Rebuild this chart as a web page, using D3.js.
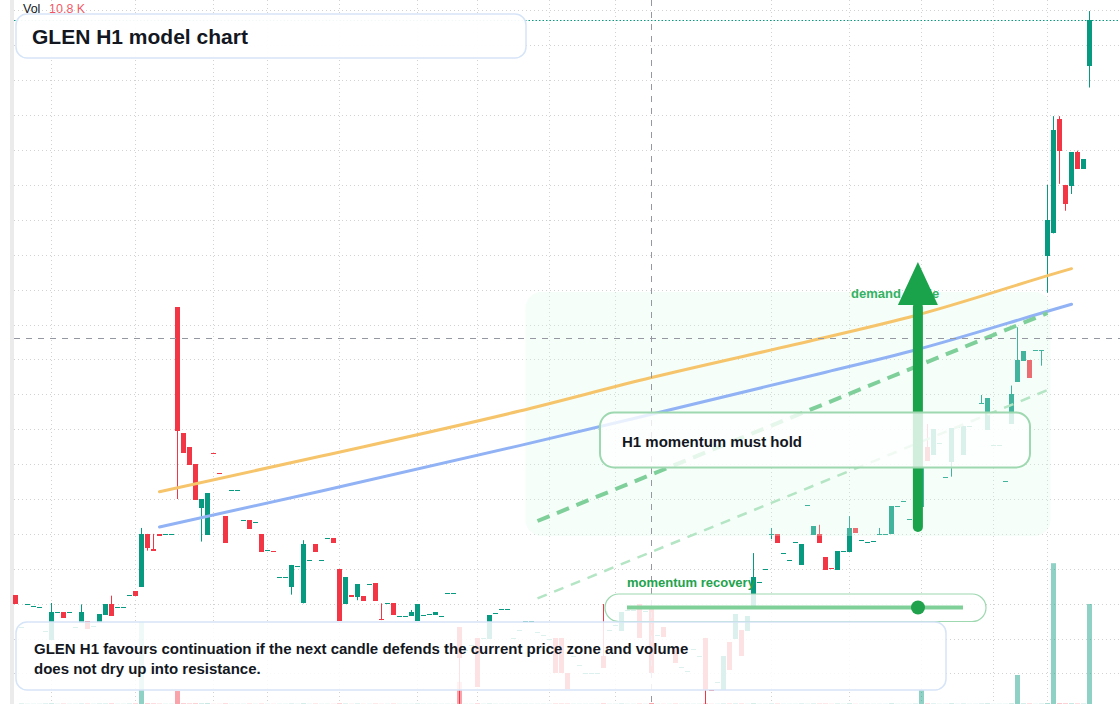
<!DOCTYPE html>
<html><head><meta charset="utf-8">
<script src="https://cdn.jsdelivr.net/npm/d3@7"></script>
<style>
html,body{margin:0;padding:0;background:#fff;overflow:hidden;}
svg{display:block;font-family:"Liberation Sans",Arial,Helvetica,sans-serif;}
</style></head><body>
<svg id="chart" width="1120" height="704"></svg>
<script>
// ---------------- data ----------------
const opens = [
394.24,393.33,393.98,393.93,393.90,393.22,392.96,393.76,393.76,393.76,
393.33,393.45,393.50,393.35,393.48,393.68,393.99,393.90,393.90,394.25,
394.36,394.49,396.00,395.56,396.00,395.96,395.99,402.50,398.89,398.49,
398.00,396.75,395.98,398.31,397.75,396.51,397.25,397.25,396.39,396.40,
396.33,396.00,395.53,395.51,394.76,394.76,394.49,395.07,394.01,395.25,
395.71,395.25,395.87,395.87,394.99,394.00,394.25,394.20,394.22,394.56,
394.59,393.56,394.01,394.01,393.64,393.64,393.65,393.51,393.68,393.71,
393.69,393.64,394.31,394.31,393.33,392.67,392.82,393.02,393.02,392.99,
393.73,393.85,393.85,393.02,393.25,393.50,393.50,393.20,393.10,393.00,
393.02,393.02,392.01,392.50,392.24,392.01,392.01,392.01,392.50,393.25,
393.40,393.22,393.82,393.82,393.99,393.80,393.87,393.10,393.33,392.80,
392.73,392.20,392.07,392.70,392.50,393.02,391.54,391.76,391.53,392.90,
392.99,393.25,393.22,393.94,394.62,394.99,396.00,396.00,395.44,395.24,
395.76,395.11,396.82,395.97,396.00,395.34,395.02,394.97,395.51,395.49,
396.17,395.82,395.76,395.80,395.99,395.99,395.99,396.80,396.94,396.42,
396.45,396.77,398.48,398.25,398.60,397.63,398.05,399.06,398.25,399.09,
399.49,399.75,398.98,398.55,398.55,397.52,399.15,400.36,400.96,400.98,
401.26,401.24,403.97,404.61,407.89,406.00,405.98,406.94,406.46,409.42];
const highs = [
394.24,393.33,393.98,393.93,393.90,393.22,394.02,393.76,393.76,393.76,
393.33,393.98,393.50,393.35,393.70,393.99,394.23,393.90,393.90,394.25,
394.36,396.17,396.00,396.00,396.00,395.99,395.99,402.50,398.89,398.49,
398.00,397.00,397.17,398.31,397.75,396.51,397.25,397.25,396.39,396.40,
396.33,396.00,395.53,395.51,394.76,394.76,395.11,395.07,395.82,395.25,
395.71,395.25,395.87,395.87,394.99,394.77,394.25,394.56,394.22,394.56,
394.59,394.01,394.01,394.01,393.64,393.64,393.82,393.99,393.68,393.71,
393.76,393.64,394.31,394.31,393.33,392.67,392.82,393.02,393.02,393.68,
393.73,393.85,393.85,393.02,393.25,393.50,393.50,393.20,393.10,393.00,
393.02,393.02,392.01,392.50,392.24,392.01,392.01,392.01,393.99,393.25,
393.40,393.76,393.82,393.82,393.99,393.80,393.87,393.10,393.33,392.80,
392.73,392.20,392.07,392.70,392.50,393.02,391.54,391.76,392.50,392.90,
393.70,393.25,393.65,395.45,394.62,394.99,396.17,396.00,395.44,395.24,
395.76,395.71,396.82,396.23,396.26,395.34,395.02,395.51,395.51,396.51,
396.17,395.82,395.76,395.80,396.17,395.99,396.80,396.80,396.94,396.42,
396.80,397.92,399.15,399.01,398.60,397.63,399.03,399.06,399.09,399.09,
399.49,399.98,399.89,398.55,398.55,397.52,400.25,401.92,401.24,400.98,
401.26,401.26,406.00,407.97,407.97,406.00,406.94,406.98,406.74,410.98];
const lows = [
394.00,393.33,393.98,393.93,393.90,393.22,392.96,393.76,393.59,393.76,
393.33,393.45,393.27,393.35,393.48,393.68,393.66,393.90,393.90,394.25,
394.23,394.49,395.52,395.52,395.95,395.96,395.99,397.00,398.33,397.98,
396.98,395.78,395.98,398.29,397.71,395.75,397.25,397.25,396.39,396.15,
396.33,395.49,395.53,395.49,394.76,394.76,394.26,395.07,394.01,395.25,
395.49,395.25,395.87,395.75,393.51,394.00,394.19,394.10,394.08,394.56,
394.08,393.53,394.01,393.68,393.64,393.64,393.65,393.51,393.68,393.71,
393.69,393.64,394.31,394.31,391.13,392.67,392.82,391.61,393.02,392.99,
393.73,393.85,393.85,393.02,393.25,393.50,393.50,393.20,393.10,393.00,
392.01,392.01,391.56,392.50,392.24,392.01,392.01,392.01,392.16,393.25,
393.40,393.22,393.82,393.82,393.02,393.80,392.01,393.10,393.05,392.80,
392.30,392.20,392.07,392.70,392.50,390.96,391.53,391.76,391.53,392.10,
392.99,392.50,393.22,393.94,394.62,394.99,395.85,395.75,395.44,395.24,
395.76,395.11,396.82,395.97,395.75,394.97,395.01,394.97,395.51,395.49,
396.03,395.82,395.76,395.80,395.99,395.99,395.99,396.80,396.94,396.42,
396.40,396.77,398.10,398.25,398.60,397.63,397.64,399.06,398.25,399.09,
399.49,399.75,398.98,398.55,398.55,397.52,399.15,400.36,400.96,400.48,
401.26,400.82,402.91,404.61,406.03,405.26,405.74,406.46,406.46,408.79];
const closes = [
394.00,393.33,393.98,393.93,393.90,393.22,393.76,393.76,393.59,393.76,
393.33,393.76,393.27,393.35,393.70,393.99,393.66,393.90,393.90,394.25,
394.23,396.00,395.60,395.52,395.95,395.99,395.99,398.96,398.33,397.98,
396.98,397.00,397.17,398.29,397.71,395.75,397.25,397.25,396.39,396.15,
396.33,395.49,395.53,395.49,394.76,394.76,395.11,395.07,395.71,395.25,
395.49,395.25,395.87,395.75,393.51,394.77,394.19,394.56,394.08,394.56,
394.08,393.53,394.01,393.68,393.64,393.64,393.76,393.99,393.68,393.71,
393.76,393.64,394.31,394.31,392.44,392.67,392.82,391.61,393.02,393.68,
393.73,393.85,393.85,393.02,393.25,393.50,393.50,393.20,393.10,393.00,
392.01,392.01,391.56,392.50,392.24,392.01,392.01,392.01,392.16,393.25,
393.40,393.76,393.82,393.82,393.02,393.80,392.01,393.10,393.05,392.80,
392.30,392.20,392.07,392.70,392.50,391.53,391.53,391.76,392.50,392.10,
393.70,392.50,393.65,394.77,394.62,394.99,396.00,395.75,395.44,395.24,
395.76,395.71,396.82,396.23,395.75,394.97,395.01,395.51,395.51,396.17,
396.03,395.82,395.76,395.80,395.99,395.99,396.80,396.80,396.94,396.42,
396.77,397.92,398.10,399.01,398.60,397.63,399.03,399.06,399.09,399.09,
399.49,399.75,399.89,398.55,398.55,397.52,400.01,400.98,401.24,400.48,
401.26,401.26,404.99,407.57,406.98,405.46,406.94,406.46,406.74,410.73];
// volume, thousands
const volumes = [
10.0,10.2,10.1,10.1,10.1,10.2,10.3,10.1,10.2,10.1,
10.1,10.2,10.2,10.1,10.2,10.2,10.3,10.1,10.1,10.2,
10.3,77.0,10.4,10.3,10.2,10.1,10.1,20.6,10.4,10.3,
10.4,10.3,10.4,10.1,10.1,10.3,10.1,10.1,10.1,10.2,
10.1,10.2,10.1,10.1,10.1,10.1,10.2,10.1,10.3,10.1,
10.2,10.1,10.1,10.1,10.4,10.2,10.1,10.2,10.1,10.1,
10.2,10.1,10.1,10.2,10.1,10.1,10.1,10.2,10.1,10.1,
10.1,10.1,10.1,10.1,28.0,10.1,10.1,10.3,10.1,10.2,
10.1,10.1,10.1,10.1,10.1,10.1,10.1,10.1,10.1,10.1,
10.2,10.2,10.2,10.1,10.1,10.1,10.1,10.1,10.3,10.1,
10.1,10.2,10.1,10.1,10.2,10.1,10.8,10.1,10.1,10.1,
10.2,10.1,10.1,10.1,10.1,10.4,10.1,10.1,10.2,10.2,
10.2,10.2,10.1,10.3,10.1,10.1,10.2,10.2,10.1,10.1,
10.1,10.2,10.1,10.2,10.2,10.2,10.1,10.2,10.1,10.3,
10.1,10.1,10.1,10.1,10.1,10.1,10.3,10.1,10.1,10.1,
10.2,21.4,10.3,10.2,10.1,10.1,10.3,10.1,10.2,10.1,
10.1,10.2,10.3,10.1,10.1,10.1,10.3,33.7,10.3,10.3,
10.1,10.2,10.6,125.0,10.5,10.4,10.4,10.3,10.2,91.7];

// bar indices that carry a time-axis tick (vertical grid lines)
const timeTickIndex = [6,20,33,42,54,67,77,89,100,126,139,151,163,172];

// overlay lines: [bar index, price]
const orangeIdx = [24,51,84,106,134,150,174,176];
const orangeVal = [397.21,398.23,399.52,400.48,401.59,402.26,403.50,403.60];
const blueIdx   = [24,51,84,106,134,150,174,176];
const blueVal   = [396.20,397.23,398.53,399.43,400.59,401.27,402.48,402.58];
const thickDashIdx = [87,172];
const thickDashVal = [396.37,402.33];
const thinDashIdx  = [87,172];
const thinDashVal  = [394.15,400.12];
// demand zone [index from, index to], [price low, price high]
const zoneIdx = [85,172.5];
const zoneVal = [395.94,402.93];
// demand guide arrow [index], [price tail, price head base, price tip]
const arrowIdx = 150.4;
const arrowVal = [396.20,402.56,403.79];
// crosshair
const crossIdx = 106;
const crossVal = 401.61;

// texts
const titleText = "GLEN H1 model chart";
const noteLines = ["GLEN H1 favours continuation if the next candle defends the current price zone and volume",
                   "does not dry up into resistance."];
const holdText = "H1 momentum must hold";
const recoveryText = "momentum recovery";
const demandText = "demand guide";

// ---------------- drawing ----------------
const W = 1120, H = 704;
const UP = "#089981", DOWN = "#f23645";
const svg = d3.select("#chart");
const N = opens.length;

const x = d3.scaleLinear().domain([0, N - 1]).range([15.5, 1089.5]);
const y = d3.scaleLinear().domain([391, 411]).range([708.4, 10.4]);
const yv = d3.scaleLinear().domain(d3.extent(volumes)).range([H, H * 0.8]);

svg.append("rect").attr("width", W).attr("height", H).attr("fill", "#fff");
svg.append("rect").attr("x", 10).attr("y", 0).attr("width", 4).attr("height", H).attr("fill", "#ebebeb");

// grid
const grid = svg.append("g").attr("stroke", "#d2d2d2").attr("stroke-width", 1).attr("stroke-dasharray", "1,3");
grid.selectAll("line.v").data(timeTickIndex).join("line")
  .attr("x1", d => x(d)).attr("x2", d => x(d)).attr("y1", 0).attr("y2", H);
grid.selectAll("line.h").data(y.ticks(20)).join("line")
  .attr("x1", 14).attr("x2", W).attr("y1", d => Math.round(y(d)) + 0.5).attr("y2", d => Math.round(y(d)) + 0.5);

const bars = d3.range(N).map(i => ({i, o: opens[i], h: highs[i], l: lows[i], c: closes[i], v: volumes[i], up: closes[i] >= opens[i]}));

// volume
svg.append("g").selectAll("rect").data(bars).join("rect")
  .attr("x", d => x(d.i) - 2.5).attr("width", 5)
  .attr("y", d => yv(d.v)).attr("height", d => H - yv(d.v))
  .attr("fill", d => d.up ? UP : DOWN).attr("fill-opacity", 0.45);

// candles
const cg = svg.append("g");
cg.selectAll("line").data(bars.filter(d => d.h > Math.max(d.o, d.c) || d.l < Math.min(d.o, d.c))).join("line")
  .attr("x1", d => x(d.i)).attr("x2", d => x(d.i))
  .attr("y1", d => y(d.h)).attr("y2", d => y(d.l))
  .attr("stroke", d => d.up ? UP : DOWN).attr("stroke-width", 1);
cg.selectAll("rect").data(bars).join("rect")
  .attr("x", d => x(d.i) - 2.5).attr("width", 5)
  .attr("y", d => Math.min(y(d.o), y(d.c)))
  .attr("height", d => Math.max(1, Math.abs(y(d.o) - y(d.c))))
  .attr("fill", d => d.up ? UP : DOWN)
  .attr("shape-rendering", "crispEdges");

// demand zone
svg.append("rect")
  .attr("x", x(zoneIdx[0])).attr("y", y(zoneVal[1]))
  .attr("width", x(zoneIdx[1]) - x(zoneIdx[0])).attr("height", y(zoneVal[0]) - y(zoneVal[1]))
  .attr("rx", 16).attr("fill", "#dcfce7").attr("fill-opacity", 0.28);

// last price line
svg.append("line").attr("x1", 14).attr("x2", W)
  .attr("y1", Math.round(y(closes[N - 1])) + 0.5).attr("y2", Math.round(y(closes[N - 1])) + 0.5)
  .attr("stroke", UP).attr("stroke-dasharray", "1.5,2");

// trend curves
const lineGen = d3.line().x(d => x(d[0])).y(d => y(d[1])).curve(d3.curveMonotoneX);
svg.append("path").attr("d", lineGen(d3.zip(orangeIdx, orangeVal)))
  .attr("fill", "none").attr("stroke", "#f6c46a").attr("stroke-width", 3).attr("stroke-linecap", "round");
svg.append("path").attr("d", lineGen(d3.zip(blueIdx, blueVal)))
  .attr("fill", "none").attr("stroke", "#91b2f4").attr("stroke-width", 3).attr("stroke-linecap", "round");
svg.append("path").attr("d", d3.line().x(d => x(d[0])).y(d => y(d[1]))(d3.zip(thickDashIdx, thickDashVal)))
  .attr("fill", "none").attr("stroke", "#7fcf9a").attr("stroke-width", 4).attr("stroke-dasharray", "13,8");
svg.append("path").attr("d", d3.line().x(d => x(d[0])).y(d => y(d[1]))(d3.zip(thinDashIdx, thinDashVal)))
  .attr("fill", "none").attr("stroke", "#b4e5c4").attr("stroke-width", 2.5).attr("stroke-dasharray", "10,8");

// crosshair
svg.append("line").attr("x1", x(crossIdx)).attr("x2", x(crossIdx)).attr("y1", 0).attr("y2", H)
  .attr("stroke", "#9598a1").attr("stroke-dasharray", "6,6");
svg.append("line").attr("x1", 14).attr("x2", W).attr("y1", Math.round(y(crossVal)) + 0.5).attr("y2", Math.round(y(crossVal)) + 0.5)
  .attr("stroke", "#9598a1").attr("stroke-dasharray", "6,6");

// demand guide label + arrow
svg.append("text").attr("x", 851).attr("y", 298).attr("font-size", 13).attr("font-weight", 700)
  .attr("fill", "#34b163").text(demandText);
const ax = x(arrowIdx);
svg.append("line").attr("x1", ax).attr("x2", ax).attr("y1", y(arrowVal[0])).attr("y2", y(arrowVal[1]) + 2)
  .attr("stroke", "#1aa34a").attr("stroke-width", 10).attr("stroke-linecap", "round");
svg.append("path")
  .attr("d", `M${ax},${y(arrowVal[2])} L${ax + 20},${y(arrowVal[1])} L${ax - 20},${y(arrowVal[1])} Z`)
  .attr("fill", "#1aa34a");

// annotation boxes
function box(x0, y0, w, h, r, stroke, sw, op) {
  svg.append("rect").attr("x", x0).attr("y", y0).attr("width", w).attr("height", h).attr("rx", r)
    .attr("fill", "#fff").attr("fill-opacity", op).attr("stroke", stroke).attr("stroke-width", sw);
}
// H1 momentum box
box(600, 412.5, 430, 55, 14, "#9ed8b0", 2, 0.8);
svg.append("text").attr("x", 622).attr("y", 447).attr("font-size", 15).attr("font-weight", 700)
  .attr("fill", "#131722").text(holdText);

// momentum recovery pill
box(605, 594, 381, 27.5, 13.75, "#9ed8b0", 1.2, 0.85);
svg.append("line").attr("x1", 627).attr("x2", 963).attr("y1", 607.5).attr("y2", 607.5)
  .attr("stroke", "#7fcf98").attr("stroke-width", 4);
svg.append("circle").attr("cx", 918).attr("cy", 607.5).attr("r", 7).attr("fill", "#1fa24b");
svg.append("text").attr("x", 627).attr("y", 587).attr("font-size", 13).attr("font-weight", 700)
  .attr("fill", "#22a34c").text(recoveryText);

// bottom note
box(16, 622, 930, 68, 11, "#d6e4f8", 1.5, 0.86);
svg.append("g").selectAll("text").data(noteLines).join("text")
  .attr("x", 34).attr("y", (d, k) => 653.5 + 20 * k).attr("font-size", 15).attr("font-weight", 700)
  .attr("fill", "#131722").text(d => d);

// title
box(16, 14, 510, 44, 11, "#d6e4f8", 1.5, 0.95);
svg.append("text").attr("x", 32).attr("y", 43.5).attr("font-size", 21).attr("font-weight", 700)
  .attr("fill", "#131722").text(titleText);

// volume legend
const vlab = svg.append("text").attr("x", 23).attr("y", 13).attr("font-size", 12.5);
vlab.append("tspan").attr("fill", "#131722").text("Vol");
vlab.append("tspan").attr("x", 49).attr("fill", "#f23645").attr("fill-opacity", 0.85)
  .text(d3.format(".1f")(volumes[crossIdx]) + " K");
</script>
</body></html>
